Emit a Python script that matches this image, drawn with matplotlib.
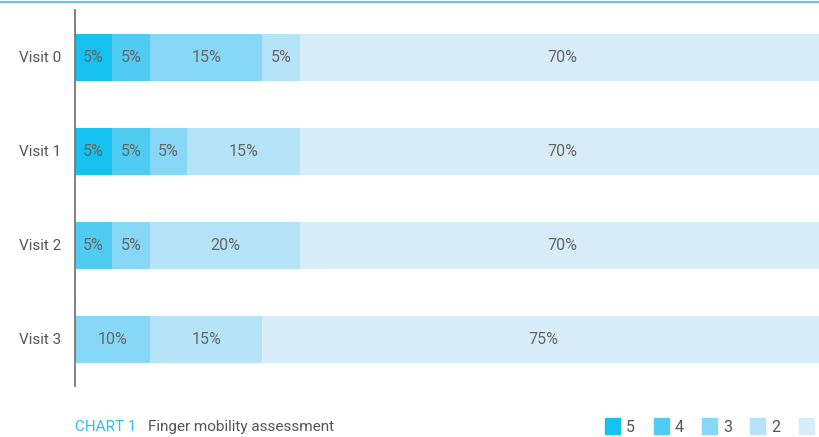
import matplotlib
matplotlib.use("Agg")
import matplotlib.pyplot as plt
from matplotlib.lines import Line2D
from matplotlib.patches import Rectangle
import numpy as np

# Data: share of patients per finger mobility score, by visit
visits = ["Visit 0", "Visit 1", "Visit 2", "Visit 3"]
scores = ["5", "4", "3", "2", "1"]
score_5 = [5, 5, 0, 0]
score_4 = [5, 5, 5, 0]
score_3 = [15, 5, 5, 10]
score_2 = [5, 15, 20, 15]
score_1 = [70, 70, 70, 75]

colors = ["#14c1ef", "#50cbf2", "#87d7f6", "#b5e3f8", "#d7eefa"]
text_grey = "#666666"

plt.rcParams["font.family"] = ["Roboto", "DejaVu Sans"]

W, H = 820, 437
fig = plt.figure(figsize=(W / 100, H / 100), dpi=100)

# axes runs past the right edge, as in the reference (cropped)
ax = fig.add_axes([75 / W, 1 - 386 / H, 750 / W, 376 / H])

series = [score_5, score_4, score_3, score_2, score_1]
y = np.arange(len(visits))
left = np.zeros(len(visits))
for vals, col in zip(series, colors):
    vals = np.array(vals, dtype=float)
    ax.barh(y, vals, left=left, height=0.5, color=col, edgecolor="none")
    for yi, (l, v) in enumerate(zip(left, vals)):
        if v > 0:
            ax.text(l + v / 2, yi, f"{int(v)}%", ha="center", va="center",
                    fontsize=11.5, color=text_grey)
    left += vals

ax.set_xlim(0, 100)
ax.set_ylim(3.5, -0.5)
ax.set_yticks(y)
ax.set_yticklabels(visits, fontsize=11, color="#555555")
ax.tick_params(axis="y", length=0, pad=10)
ax.set_xticks([])
for s in ["top", "right", "bottom"]:
    ax.spines[s].set_visible(False)
ax.spines["left"].set_color("#777777")
ax.spines["left"].set_linewidth(1.3)

# top rule
fig.add_artist(Line2D([0, 1], [1 - 1.5 / H, 1 - 1.5 / H], color="#5cc8e8", linewidth=1.5))

# caption
fig.text(75 / W, 1 - 427 / H, "CHART 1", color="#29c0ee", fontsize=11, va="center")
fig.text(148 / W, 1 - 427 / H, "Finger mobility assessment", color="#555555",
         fontsize=11, va="center")

# legend (last entry is cropped at the right edge, as in the reference)
for i, (lab, col) in enumerate(zip(scores, colors)):
    x0 = 605 + i * 48.5
    fig.add_artist(Rectangle((x0 / W, 1 - 434 / H), 15 / W, 16 / H,
                             transform=fig.transFigure, color=col))
    fig.text((x0 + 21) / W, 1 - 427 / H, lab, color="#555555", fontsize=11.5, va="center")

fig.savefig("out.png", dpi=100)
